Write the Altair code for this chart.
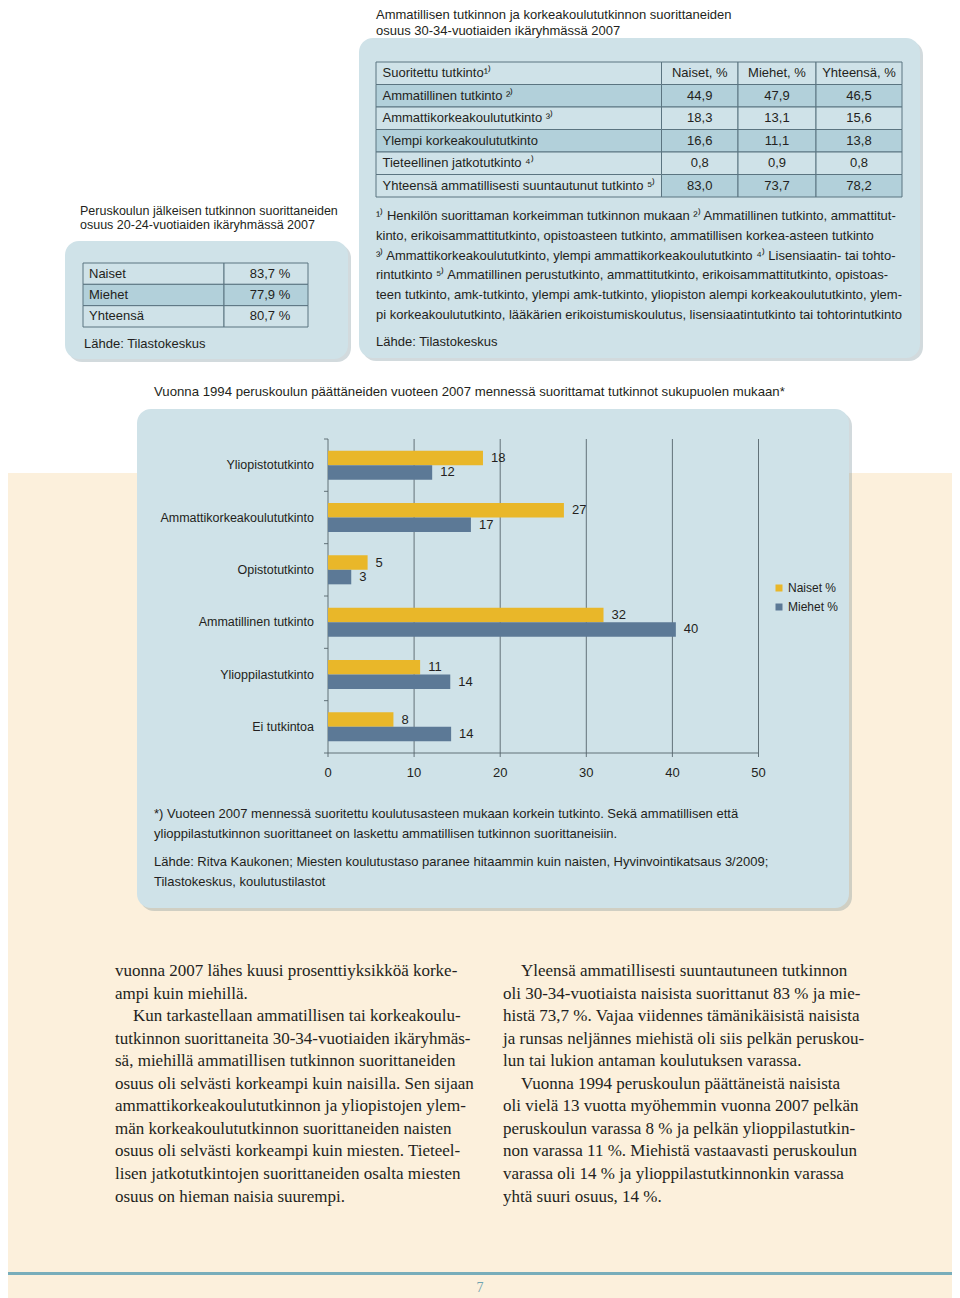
import altair as alt
import pandas as pd

# ---------------- data ----------------
t1_title = ["Ammatillisen tutkinnon ja korkeakoulututkinnon suorittaneiden",
            "osuus 30-34-vuotiaiden ikäryhmässä 2007"]
t1_header = ["Suoritettu tutkinto¹⁾", "Naiset, %", "Miehet, %", "Yhteensä, %"]
t1_rows = ["Ammatillinen tutkinto ²⁾", "Ammattikorkeakoulututkinto ³⁾",
           "Ylempi korkeakoulututkinto", "Tieteellinen jatkotutkinto ⁴⁾",
           "Yhteensä ammatillisesti suuntautunut tutkinto ⁵⁾"]
t1_naiset = [44.9, 18.3, 16.6, 0.8, 83.0]
t1_miehet = [47.9, 13.1, 11.1, 0.9, 73.7]
t1_yhteensa = [46.5, 15.6, 13.8, 0.8, 78.2]
t1_notes = [
    "¹⁾ Henkilön suorittaman korkeimman tutkinnon mukaan ²⁾ Ammatillinen tutkinto, ammattitut-",
    "kinto, erikoisammattitutkinto, opistoasteen tutkinto, ammatillisen korkea-asteen tutkinto",
    "³⁾ Ammattikorkeakoulututkinto, ylempi ammattikorkeakoulututkinto ⁴⁾ Lisensiaatin- tai tohto-",
    "rintutkinto ⁵⁾ Ammatillinen perustutkinto, ammattitutkinto, erikoisammattitutkinto, opistoas-",
    "teen tutkinto, amk-tutkinto, ylempi amk-tutkinto, yliopiston alempi korkeakoulututkinto, ylem-",
    "pi korkeakoulututkinto, lääkärien erikoistumiskoulutus, lisensiaatintutkinto tai tohtorintutkinto",
]
t1_source = ["Lähde: Tilastokeskus"]

t2_title = ["Peruskoulun jälkeisen tutkinnon suorittaneiden",
            "osuus 20-24-vuotiaiden ikäryhmässä 2007"]
t2_rows = ["Naiset", "Miehet", "Yhteensä"]
t2_values = [83.7, 77.9, 80.7]
t2_source = ["Lähde: Tilastokeskus"]

chart_title = ["Vuonna 1994 peruskoulun päättäneiden vuoteen 2007 mennessä suorittamat tutkinnot sukupuolen mukaan*"]
categories = ["Yliopistotutkinto", "Ammattikorkeakoulututkinto", "Opistotutkinto",
              "Ammatillinen tutkinto", "Ylioppilastutkinto", "Ei tutkintoa"]
series = ["Naiset %", "Miehet %"]
naiset_pct = [18.0, 27.4, 4.6, 32.0, 10.7, 7.6]
miehet_pct = [12.1, 16.6, 2.7, 40.4, 14.2, 14.3]
x_ticks = [0, 10, 20, 30, 40, 50]
chart_note = ["*) Vuoteen 2007 mennessä suoritettu koulutusasteen mukaan korkein tutkinto. Sekä ammatillisen että",
              "ylioppilastutkinnon suorittaneet on laskettu ammatillisen tutkinnon suorittaneisiin."]
chart_source = ["Lähde: Ritva Kaukonen; Miesten koulutustaso paranee hitaammin kuin naisten, Hyvinvointikatsaus 3/2009;",
                "Tilastokeskus, koulutustilastot"]

body_left = [
    "vuonna 2007 lähes kuusi prosenttiyksikköä korke-",
    "ampi kuin miehillä.",
    "Kun tarkastellaan ammatillisen tai korkeakoulu-",
    "tutkinnon suorittaneita 30-34-vuotiaiden ikäryhmäs-",
    "sä, miehillä ammatillisen tutkinnon suorittaneiden",
    "osuus oli selvästi korkeampi kuin naisilla. Sen sijaan",
    "ammattikorkeakoulututkinnon ja yliopistojen ylem-",
    "män korkeakoulututkinnon suorittaneiden naisten",
    "osuus oli selvästi korkeampi kuin miesten. Tieteel-",
    "lisen jatkotutkintojen suorittaneiden osalta miesten",
    "osuus on hieman naisia suurempi.",
]
body_left_par_starts = [2]
body_right = [
    "Yleensä ammatillisesti suuntautuneen tutkinnon",
    "oli 30-34-vuotiaista naisista suorittanut 83 % ja mie-",
    "histä 73,7 %. Vajaa viidennes tämänikäisistä naisista",
    "ja runsas neljännes miehistä oli siis pelkän peruskou-",
    "lun tai lukion antaman koulutuksen varassa.",
    "Vuonna 1994 peruskoulun päättäneistä naisista",
    "oli vielä 13 vuotta myöhemmin vuonna 2007 pelkän",
    "peruskoulun varassa 8 % ja pelkän ylioppilastutkin-",
    "non varassa 11 %. Miehistä vastaavasti peruskoulun",
    "varassa oli 14 % ja ylioppilastutkinnonkin varassa",
    "yhtä suuri osuus, 14 %.",
]
body_right_par_starts = [0, 5]
page_number = ["7"]

# ---------------- styles ----------------
SANS = "Liberation Sans"
SERIF = "Liberation Serif"
INK = "#231f20"
BOX = "#cfe2e8"
SHADE = "#b2d0da"
BORDER = "#5b7480"
BEIGE = "#fcf0dc"
TEAL = "#78adba"
YEL = "#e9b729"
BLUE = "#5c7996"
GRID = "#56656c"
SHADOW = "#5f7a84"
FS = 13
W, H = 944, 1290

one = pd.DataFrame({"k": [0]})


def fi(v, suffix=""):
    return f"{v:.1f}".replace(".", ",") + suffix


def rect(x0, y0, x1, y1, fill, r=0, opacity=1.0):
    return alt.Chart(one).mark_rect(fill=fill, cornerRadius=r, opacity=opacity).encode(
        x=alt.value(x0), x2=alt.value(x1), y=alt.value(y0), y2=alt.value(y1))


def lines(texts, x, y0, pitch, size=FS, font=SANS, color=INK, align="left",
          indent_rows=(), indent=18):
    n = len(texts)
    m = max(n - 1, 1)
    df = pd.DataFrame({"i": list(range(n)), "s": texts,
                       "ind": [1 if i in indent_rows else 0 for i in range(n)]})
    return alt.Chart(df).mark_text(align=align, baseline="middle", font=font,
                                   fontSize=size, color=color).encode(
        x=alt.X("ind:Q", scale=alt.Scale(domain=[0, 1], range=[x, x + indent],
                                         zero=False, nice=False), axis=None),
        y=alt.Y("i:Q", scale=alt.Scale(domain=[0, m], range=[y0, y0 + pitch * m],
                                       zero=False, nice=False), axis=None),
        text="s:N")


def shadowed_box(x0, y0, x1, y1):
    return [rect(x0 + 3, y0 + 3, x1 + 3, y1 + 3, SHADOW, 14, 0.28),
            rect(x0, y0, x1, y1, BOX, 14)]


# ---------------- right table ----------------
df_t1 = pd.DataFrame({
    "r": list(range(6)),
    "label": [t1_header[0]] + t1_rows,
    "n": [t1_header[1]] + [fi(v) for v in t1_naiset],
    "m": [t1_header[2]] + [fi(v) for v in t1_miehet],
    "y": [t1_header[3]] + [fi(v) for v in t1_yhteensa],
})
t1_y = alt.Y("r:O", scale=alt.Scale(domain=list(range(6)), range=[54, 189],
                                    paddingInner=0, paddingOuter=0), axis=None)
t1_cols = [(368, 653.5), (653.5, 730), (730, 808), (808, 894)]
t1_fields = ["label", "n", "m", "y"]
t1_layers = []
for ci, (a, b) in enumerate(t1_cols):
    test = "datum.r == 1 || datum.r == 3" if ci == 0 else "datum.r == 1 || datum.r == 3 || datum.r == 5"
    t1_layers.append(alt.Chart(df_t1).mark_rect(stroke=BORDER, strokeWidth=1).encode(
        x=alt.value(a), x2=alt.value(b), y=t1_y,
        fill=alt.condition(test, alt.value(SHADE), alt.value(BOX))))
for ci, (a, b) in enumerate(t1_cols):
    if ci == 0:
        mk = alt.Chart(df_t1).mark_text(align="left", baseline="middle", font=SANS, fontSize=FS, color=INK)
        xx = a + 6.5
    else:
        mk = alt.Chart(df_t1).mark_text(align="center", baseline="middle", font=SANS, fontSize=FS, color=INK)
        xx = (a + b) / 2
    t1_layers.append(mk.encode(x=alt.value(xx), y=t1_y, text=f"{t1_fields[ci]}:N"))
table1 = alt.layer(*t1_layers)

# ---------------- left table ----------------
df_t2 = pd.DataFrame({"r": list(range(3)), "label": t2_rows,
                      "v": [fi(v, " %") for v in t2_values]})
t2_y = alt.Y("r:O", scale=alt.Scale(domain=[0, 1, 2], range=[255, 319],
                                    paddingInner=0, paddingOuter=0), axis=None)
t2_layers = []
for a, b in [(75, 216), (216, 300)]:
    t2_layers.append(alt.Chart(df_t2).mark_rect(stroke=BORDER, strokeWidth=1).encode(
        x=alt.value(a), x2=alt.value(b), y=t2_y,
        fill=alt.condition("datum.r == 1", alt.value(SHADE), alt.value(BOX))))
t2_layers.append(alt.Chart(df_t2).mark_text(align="left", baseline="middle", font=SANS,
                                            fontSize=FS, color=INK).encode(
    x=alt.value(81), y=t2_y, text="label:N"))
t2_layers.append(alt.Chart(df_t2).mark_text(align="center", baseline="middle", font=SANS,
                                            fontSize=FS, color=INK).encode(
    x=alt.value(262), y=t2_y, text="v:N"))
table2 = alt.layer(*t2_layers)

# ---------------- bar chart ----------------
df_bars = pd.DataFrame({
    "cat": categories * 2,
    "series": [series[0]] * len(categories) + [series[1]] * len(categories),
    "pct": naiset_pct + miehet_pct,
})
df_grid = pd.DataFrame({"t": x_ticks})
df_tk = pd.DataFrame({"t": x_ticks})
df_lab = pd.DataFrame({"t": x_ticks})
df_cats = pd.DataFrame({"cat": categories})
Y0, Y1 = 431, 745
XL, XR = 320, 750.5
xs = alt.Scale(domain=[0, 50], range=[XL, XR], nice=False, zero=True)
ys = alt.Scale(domain=categories, range=[Y0, Y1], paddingInner=0.446, paddingOuter=0.223)


def X(f):
    return alt.X(f, scale=xs, axis=None)


Yc = alt.Y("cat:N", scale=ys, sort=categories, axis=None)
yoff = alt.YOffset("series:N", sort=series,
                   scale=alt.Scale(domain=series, paddingInner=0, paddingOuter=0))

grid = alt.Chart(df_grid).mark_rule(color=GRID, strokeWidth=0.9).encode(
    x=X("t:Q"), y=alt.value(Y0), y2=alt.value(Y1))
xticks = alt.Chart(df_tk).mark_rule(color=GRID, strokeWidth=0.9).encode(
    x=X("t:Q"), y=alt.value(Y1), y2=alt.value(Y1 + 4))
xlabels = alt.Chart(df_lab).mark_text(baseline="middle", align="center", font=SANS,
                                      fontSize=FS, color=INK).encode(
    x=X("t:Q"), y=alt.value(765), text=alt.Text("t:Q", format="d"))
xdomain = alt.Chart(one).mark_rule(color=GRID, strokeWidth=0.9).encode(
    x=alt.value(XL), x2=alt.value(XR), y=alt.value(Y1))
bars = alt.Chart(df_bars).mark_bar().encode(
    x=X("pct:Q"),
    y=Yc,
    yOffset=yoff,
    color=alt.Color("series:N", sort=series, scale=alt.Scale(domain=series, range=[YEL, BLUE]),
                    legend=alt.Legend(title=None, orient="none", legendX=765, legendY=574,
                                      symbolType="square", symbolSize=49, symbolStrokeWidth=0,
                                      labelFont=SANS, labelFontSize=12, labelColor=INK,
                                      labelOffset=3, rowPadding=7)))
vals = alt.Chart(df_bars).mark_text(align="left", baseline="middle", dx=8, font=SANS,
                                    fontSize=FS, color=INK).encode(
    x=X("pct:Q"), y=Yc, yOffset=yoff,
    text=alt.Text("pct:Q", format=".0f"))
catlabels = alt.Chart(df_cats).mark_text(align="right", baseline="middle", font=SANS,
                                         fontSize=12.5, color=INK).encode(
    x=alt.value(306), y=Yc, text="cat:N")
barchart = alt.layer(grid, xticks, xlabels, bars, vals, catlabels)

# category boundary ticks on the category axis
df_bounds = pd.DataFrame({"k": list(range(len(categories) + 1))})
ybounds = alt.Chart(df_bounds).mark_rule(color=GRID, strokeWidth=0.9).encode(
    x=alt.value(316), x2=alt.value(XL),
    y=alt.Y("k:Q", scale=alt.Scale(domain=[0, len(categories)], range=[Y0, Y1],
                                   zero=False, nice=False), axis=None))

# ---------------- page ----------------
layers = [
    rect(0, 465, W, H, BEIGE),
    rect(0, 1264, W, 1267, TEAL),
    *shadowed_box(351, 30, 912, 350),
    *shadowed_box(57, 233, 340, 351),
    *shadowed_box(129, 401, 841, 900),
    lines(t1_title, 368, 6.5, 16),
    table1,
    lines(t1_notes, 368, 208, 19.8),
    lines(t1_source, 368, 334, 20),
    lines(t2_title, 72, 202.5, 14.5, size=12.5),
    table2,
    lines(t2_source, 76, 336, 20),
    lines(chart_title, 146, 384, 20, size=13.2),
    barchart,
    xdomain,
    ybounds,
    lines(chart_note, 146, 806, 19.5),
    lines(chart_source, 146, 854, 19.5),
    lines(body_left, 107, 963, 22.55, size=17, font=SERIF, indent_rows=body_left_par_starts),
    lines(body_right, 495, 963, 22.55, size=17, font=SERIF, indent_rows=body_right_par_starts),
    lines(page_number, 472, 1280, 20, size=14, font=SERIF, color="#6fa3b0", align="center"),
]

chart = alt.layer(*layers).resolve_scale(x="independent", y="independent").properties(
    width=W, height=H, padding=0, autosize=alt.AutoSizeParams(type="none")
).configure_view(stroke=None)

chart.save("out.html", embed_options={"renderer": "svg", "actions": False})
